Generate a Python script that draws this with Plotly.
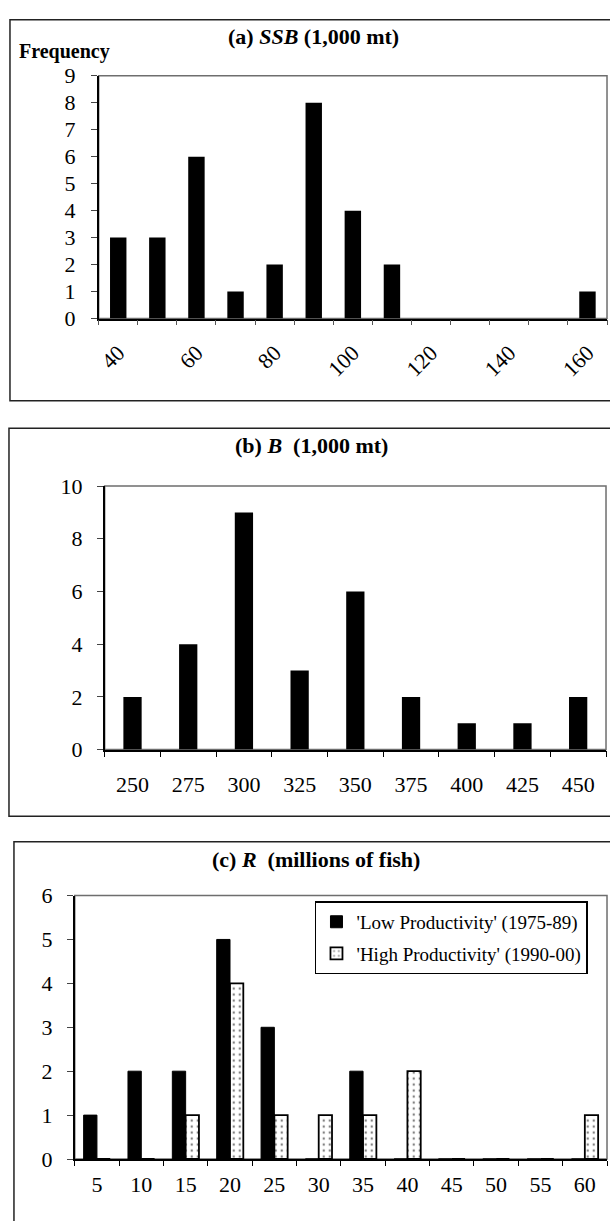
import plotly.graph_objects as go

# ---- data -------------------------------------------------------------
# (a) spawning stock biomass, 1,000 mt
ssb_bins = [40, 50, 60, 70, 80, 90, 100, 110, 120, 130, 140, 150, 160]
ssb_freq = [3, 3, 6, 1, 2, 8, 4, 2, 0, 0, 0, 0, 1]
ssb_labels = ["40", "60", "80", "100", "120", "140", "160"]
ssb_label_vals = [40, 60, 80, 100, 120, 140, 160]

# (b) total biomass, 1,000 mt
b_bins = [250, 275, 300, 325, 350, 375, 400, 425, 450]
b_freq = [2, 4, 9, 3, 6, 2, 1, 1, 2]

# (c) recruitment, millions of fish
r_bins = [5, 10, 15, 20, 25, 30, 35, 40, 45, 50, 55, 60]
r_low = [1, 2, 2, 5, 3, 0, 2, 0, 0, 0, 0, 0]
r_high = [0, 0, 1, 4, 1, 1, 1, 2, 0, 0, 0, 1]

W, H = 610, 1221
FONT = "Liberation Serif, Times New Roman, serif"
TICK_SIZE = 22


def px_x(v):
    return v / W


def px_y(v):
    return 1 - v / H


def boundaries(bins):
    step = bins[1] - bins[0]
    return [b - step / 2 for b in bins] + [bins[-1] + step / 2]


def rng(bins):
    step = bins[1] - bins[0]
    return [bins[0] - step / 2, bins[-1] + step / 2]


fig = go.Figure()

# bars
fig.add_trace(go.Bar(x=ssb_bins, y=ssb_freq, width=4.2, marker=dict(color="black", line=dict(width=0)),
                     xaxis="x", yaxis="y", showlegend=False))
fig.add_trace(go.Bar(x=b_bins, y=b_freq, width=8.2, marker=dict(color="black", line=dict(width=0)),
                     xaxis="x3", yaxis="y2", showlegend=False))
fig.add_trace(go.Bar(x=r_bins, y=r_low, name="'Low Productivity' (1975-89)",
                     marker=dict(color="black", line=dict(color="black", width=1)),
                     xaxis="x5", yaxis="y4", legendgroup="low"))
fig.add_trace(go.Bar(x=r_bins, y=r_high, name="'High Productivity' (1990-00)",
                     marker=dict(color="white", line=dict(color="black", width=1.8),
                                 pattern=dict(shape=".", fgcolor="black", bgcolor="white",
                                              size=6, solidity=0.12)),
                     xaxis="x5", yaxis="y4", legendgroup="high"))

tickfont = dict(family=FONT, size=TICK_SIZE, color="black")

# panel domains (paper fractions)
dom_a = dict(x=[px_x(97), px_x(607)], y=[px_y(313), px_y(65)])
dom_b = dict(x=[px_x(103), px_x(606)], y=[px_y(753), px_y(484)])
dom_c = dict(x=[px_x(73), px_x(607)], y=[px_y(1171), px_y(902)])


def x_main(dom, bins, vals, texts, anchor, angle=0, tcol="black", tlen=5, standoff=8):
    return dict(domain=dom["x"], range=rng(bins), anchor=anchor, showgrid=False, zeroline=False,
                showline=True, linecolor="black", linewidth=1.5,
                tickmode="array", tickvals=vals, ticktext=texts, ticks="",
                tickangle=angle, tickfont=tickfont, ticklabelstandoff=standoff,
                minor=dict(tickmode="array", tickvals=boundaries(bins), ticks="outside",
                           ticklen=tlen, tickcolor=tcol, tickwidth=1, showgrid=False))


def x_inner(dom, bins, over, anchor, tcol="black", tlen=4):
    return dict(domain=dom["x"], range=rng(bins), overlaying=over, anchor=anchor, showgrid=False,
                zeroline=False, showline=False, tickmode="array", tickvals=boundaries(bins),
                ticks="inside", ticklen=tlen, tickcolor=tcol, tickwidth=1, showticklabels=False)


def y_main(dom, top, step, anchor, standoff):
    return dict(domain=dom["y"], range=[0, top], dtick=step, anchor=anchor, showgrid=False,
                zeroline=False, showline=True, linecolor="black", linewidth=1.5,
                ticks="outside", ticklen=6, tickfont=tickfont, ticklabelstandoff=standoff)


layout = dict(
    width=W, height=H, autosize=False,
    margin=dict(l=0, r=0, t=0, b=0),
    paper_bgcolor="white", plot_bgcolor="white",
    barmode="group", bargap=0.4, bargroupgap=0,
    font=dict(family=FONT, color="black"),
    # (a)
    xaxis=x_main(dom_a, ssb_bins, ssb_label_vals, ssb_labels, "y", angle=-45, tcol="#555",
                 standoff=11),
    xaxis2=x_inner(dom_a, ssb_bins, "x", "y", tcol="#555"),
    yaxis=y_main(dom_a, 9, 1, "x", 11),
    # (b)
    xaxis3=x_main(dom_b, b_bins, b_bins, [str(v) for v in b_bins], "y2", tlen=6, standoff=14),
    xaxis4=x_inner(dom_b, b_bins, "x3", "y2", tlen=6),
    yaxis2=y_main(dom_b, 10, 2, "x3", 10),
    yaxis3=dict(domain=dom_b["y"], range=[0, 10], dtick=2, anchor="x3", overlaying="y2", showgrid=False,
                zeroline=False, showline=False, ticks="inside", ticklen=6, showticklabels=False),
    # (c)
    xaxis5=x_main(dom_c, r_bins, r_bins, [str(v) for v in r_bins], "y4", tlen=5, standoff=5),
    xaxis6=x_inner(dom_c, r_bins, "x5", "y4", tlen=3),
    yaxis4=y_main(dom_c, 6, 1, "x5", 10),
    legend=dict(x=px_x(314), y=px_y(908), xanchor="left", yanchor="top",
                bgcolor="white", bordercolor="black", borderwidth=1.5,
                font=dict(family=FONT, size=19, color="black"),
                traceorder="grouped", tracegroupgap=4, itemwidth=30),
)
fig.update_layout(**layout)

# plot-area frames
for xr, yr in [("x", "y"), ("x3", "y2"), ("x5", "y4")]:
    fig.add_shape(type="rect", xref=f"{xr} domain", yref=f"{yr} domain", x0=0, x1=1, y0=0, y1=1,
                  line=dict(color="#6e6e6e", width=1.5), layer="below")

# outer chart frames
for x0, y_top, y_bot in [(8, 8, 397), (7, 425, 821), (12, 847, 1240)]:
    fig.add_shape(type="rect", xref="paper", yref="paper",
                  x0=px_x(x0), x1=px_x(W + 10), y0=px_y(y_bot), y1=px_y(y_top),
                  line=dict(color="#222", width=1.5), layer="below")

titles = [
    ("<b>(a) <i>SSB</i> (1,000 mt)</b>", 313, 25),
    ("<b>(b) <i>B</i>  (1,000 mt)</b>", 311, 443),
    ("<b>(c) <i>R</i>  (millions of fish)</b>", 315, 865),
]
for txt, cx, cy in titles:
    fig.add_annotation(text=txt, xref="paper", yref="paper", x=px_x(cx), y=px_y(cy),
                       showarrow=False, xanchor="center", yanchor="middle",
                       font=dict(family=FONT, size=22, color="black"))

fig.add_annotation(text="<b>Frequency</b>", xref="paper", yref="paper", x=px_x(15), y=px_y(40),
                   showarrow=False, xanchor="left", yanchor="middle",
                   font=dict(family=FONT, size=20, color="black"))

fig.write_html("out.html")
